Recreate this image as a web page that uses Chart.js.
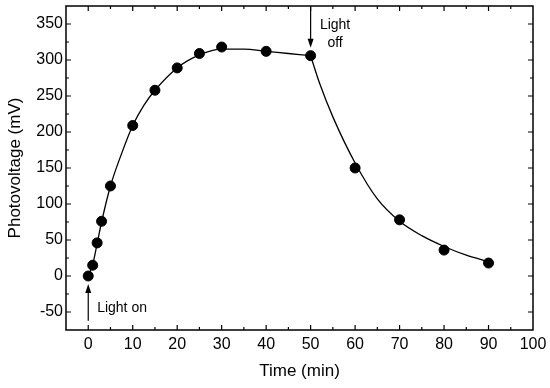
<!DOCTYPE html>
<html>
<head>
<meta charset="utf-8">
<script src="https://cdn.jsdelivr.net/npm/chart.js@4"></script>
<style>
  html, body { margin: 0; padding: 0; background: #fff; }
  #wrap { width: 550px; height: 388px; }
</style>
</head>
<body>
<div id="wrap"><canvas id="photoChart"></canvas></div>
<script>
// measured points
const timeMin = [0, 1, 2, 3, 5, 10, 15, 20, 25, 30, 40, 50, 60, 70, 80, 90];
const voltage = [0, 15, 46, 76, 125, 209, 258, 289, 309, 318, 312, 306, 150, 78, 36, 18];

// fitted curve (light on / light off parts)
const riseTime = [0, 1, 2, 3, 5, 7.5, 10, 12.5, 15, 20, 25, 30, 35, 40, 45, 50];
const riseFit = [0, 16, 45, 75, 125, 170, 209, 237, 258, 289, 307, 315, 315, 312, 309, 306];
const decayTime = [50, 52, 55, 60, 65, 70, 75, 80, 85, 90];
const decayFit = [306, 268, 221, 157, 107, 76, 56, 41, 29, 20];

// axis ticks
const xTicks = [0, 10, 20, 30, 40, 50, 60, 70, 80, 90, 100];
const yTicks = [-50, 0, 50, 100, 150, 200, 250, 300, 350];

const FONT = "'Liberation Sans', Arial, sans-serif";

function toXY(xs, ys) {
    return xs.map((x, i) => ({ x: x, y: ys[i] }));
}

// frame, inward ticks, arrows and labels
const framePlugin = {
    id: 'frame',
    afterDraw(chart) {
        const ctx = chart.ctx;
        const xs = chart.scales.x;
        const ys = chart.scales.y;
        const a = chart.chartArea;
        ctx.save();
        ctx.strokeStyle = '#000';
        ctx.lineWidth = 1.5;
        ctx.strokeRect(a.left, a.top, a.right - a.left, a.bottom - a.top);

        ctx.lineWidth = 1.2;
        ctx.beginPath();
        // x ticks (bottom + top)
        for (let v = 0; v <= 95; v += 5) {
            const px = xs.getPixelForValue(v);
            const len = v % 10 === 0 ? 5 : 3;
            ctx.moveTo(px, a.bottom); ctx.lineTo(px, a.bottom - len);
            ctx.moveTo(px, a.top); ctx.lineTo(px, a.top + len);
        }
        // y ticks (left + right)
        for (let v = -50; v <= 350; v += 25) {
            const py = ys.getPixelForValue(v);
            const len = v % 50 === 0 ? 5 : 3;
            ctx.moveTo(a.left, py); ctx.lineTo(a.left + len, py);
            ctx.moveTo(a.right, py); ctx.lineTo(a.right - len, py);
        }
        ctx.stroke();

        // arrows
        function arrow(x, y1, y2) {
            const px = xs.getPixelForValue(x);
            const p1 = ys.getPixelForValue(y1);
            const p2 = ys.getPixelForValue(y2);
            const dir = p2 > p1 ? 1 : -1;
            ctx.lineWidth = 1.2;
            ctx.beginPath();
            ctx.moveTo(px, p1);
            ctx.lineTo(px, p2 - dir * 6);
            ctx.stroke();
            ctx.beginPath();
            ctx.moveTo(px, p2);
            ctx.lineTo(px - 3, p2 - dir * 9);
            ctx.lineTo(px + 3, p2 - dir * 9);
            ctx.closePath();
            ctx.fill();
        }
        ctx.fillStyle = '#000';
        arrow(0, -62, -11);
        arrow(50, 374, 317);

        ctx.font = '14px ' + FONT;
        ctx.textBaseline = 'middle';
        ctx.textAlign = 'left';
        ctx.fillText('Light on', xs.getPixelForValue(2), ys.getPixelForValue(-44));
        ctx.textAlign = 'center';
        ctx.fillText('Light', xs.getPixelForValue(55.5), ys.getPixelForValue(348));
        ctx.fillText('off', xs.getPixelForValue(55.5), ys.getPixelForValue(324));
        ctx.restore();
    }
};

new Chart(document.getElementById('photoChart'), {
    type: 'scatter',
    data: {
        datasets: [
            {
                data: toXY(timeMin, voltage),
                backgroundColor: '#000',
                borderColor: '#000',
                pointRadius: 5,
                order: 0
            },
            {
                data: toXY(riseTime, riseFit),
                showLine: true,
                borderColor: '#000',
                borderWidth: 1.3,
                pointRadius: 0,
                cubicInterpolationMode: 'monotone',
                order: 1
            },
            {
                data: toXY(decayTime, decayFit),
                showLine: true,
                borderColor: '#000',
                borderWidth: 1.3,
                pointRadius: 0,
                cubicInterpolationMode: 'monotone',
                order: 1
            }
        ]
    },
    options: {
        responsive: true,
        maintainAspectRatio: false,
        animation: false,
        layout: { padding: { top: 6, right: 17, left: 0, bottom: 0 } },
        plugins: { legend: { display: false }, tooltip: { enabled: false } },
        scales: {
            x: {
                type: 'linear',
                min: -5,
                max: 100,
                grid: { display: false, drawTicks: false },
                border: { display: false },
                afterBuildTicks: s => { s.ticks = xTicks.map(v => ({ value: v })); },
                afterFit: s => { s.height = 58; s.paddingLeft = 0; s.paddingRight = 0; },
                ticks: { color: '#000', font: { family: FONT, size: 16 }, padding: 5, maxRotation: 0 },
                title: { display: true, text: 'Time (min)', color: '#000', font: { family: FONT, size: 17 }, padding: { top: 0, bottom: 6 } }
            },
            y: {
                type: 'linear',
                min: -75,
                max: 375,
                grid: { display: false, drawTicks: false },
                border: { display: false },
                afterBuildTicks: s => { s.ticks = yTicks.map(v => ({ value: v })); },
                afterFit: s => { s.width = 66; s.paddingTop = 0; s.paddingBottom = 0; },
                ticks: { color: '#000', font: { family: FONT, size: 16 }, padding: 3 },
                title: { display: true, text: 'Photovoltage (mV)', color: '#000', font: { family: FONT, size: 17 }, padding: { top: 5, bottom: 0 } }
            }
        }
    },
    plugins: [framePlugin]
});
</script>
</body>
</html>
